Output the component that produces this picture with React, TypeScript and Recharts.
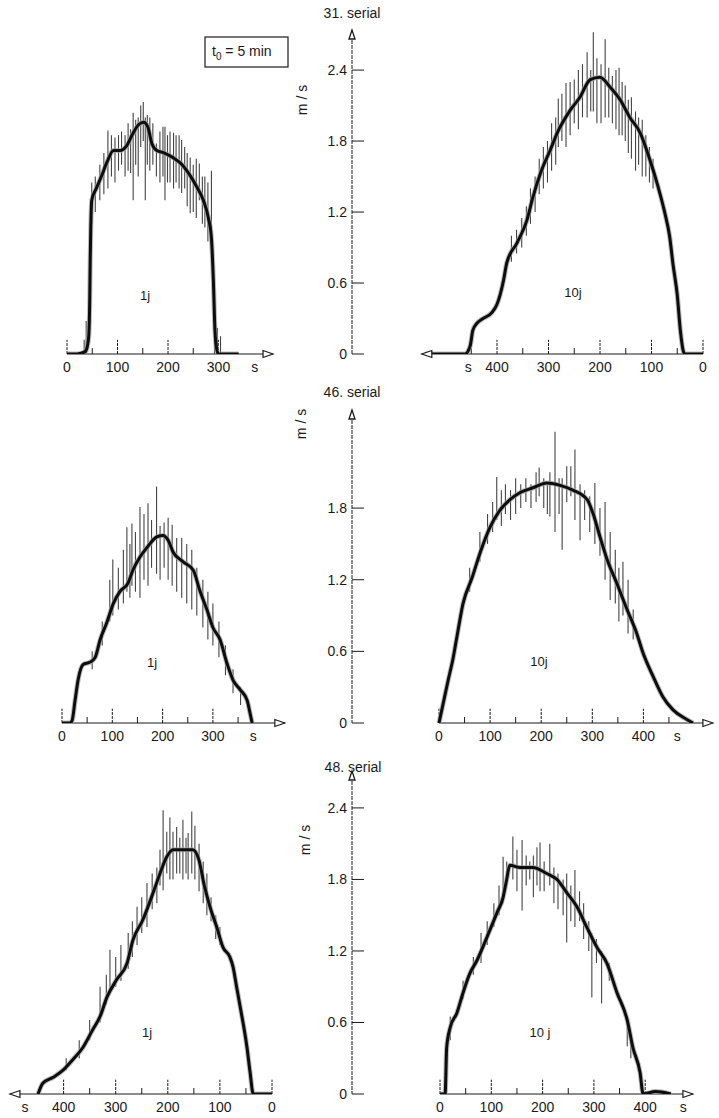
import React from 'react';
import {
  ComposedChart,
  Line,
  Scatter,
  ErrorBar,
  XAxis,
  YAxis,
  ReferenceLine,
  ReferenceDot,
} from 'recharts';

const FONT = '"Liberation Sans", Arial, sans-serif';
const INK = '#1a1a1a';

// ---------- 31. serial, 1j (time in s, speed in m/s) ----------
const r1LT = [0, 20, 36, 40, 43, 45, 46, 47, 49, 58, 68, 80, 92, 105, 118, 130, 142, 152, 160, 168, 178, 192, 210, 228, 242, 256, 270, 280, 286, 290, 293, 297, 300, 320, 340];
const r1LV = [0, 0, 0.02, 0.06, 0.15, 0.45, 0.8, 1.05, 1.3, 1.4, 1.5, 1.63, 1.72, 1.72, 1.76, 1.86, 1.94, 1.96, 1.92, 1.78, 1.72, 1.7, 1.66, 1.6, 1.52, 1.42, 1.3, 1.15, 0.98, 0.6, 0.2, 0.03, 0, 0, 0];
const r1LSpT = [34, 38, 49, 56, 65, 73, 81, 88, 95, 102, 108, 115, 121, 126, 131, 136, 141, 146, 151, 155, 159, 164, 170, 177, 184, 190, 194, 199, 204, 211, 216, 222, 227, 233, 238, 244, 250, 256, 262, 268, 273, 279, 286, 292, 298, 304];
const r1LSpLo = [0, 0, 1.1, 1.2, 1.3, 1.35, 1.4, 1.5, 1.45, 1.55, 1.6, 1.5, 1.55, 1.53, 1.3, 1.6, 1.5, 1.75, 1.8, 1.3, 1.6, 1.55, 1.6, 1.5, 1.45, 1.5, 1.3, 1.45, 1.45, 1.4, 1.45, 1.4, 1.36, 1.4, 1.25, 1.19, 1.2, 1.15, 1.3, 1.1, 1.07, 0.95, 0.85, 0, 0, 0];
const r1LSpHi = [0.12, 0.28, 1.45, 1.5, 1.6, 1.7, 1.89, 1.85, 1.83, 1.85, 1.88, 1.85, 1.95, 1.9, 2.04, 1.98, 2.0, 2.1, 2.13, 2.0, 2.02, 2.0, 1.95, 1.78, 1.88, 1.92, 1.92, 1.85, 1.88, 1.87, 1.85, 1.85, 1.81, 1.75, 1.7, 1.66, 1.6, 1.65, 1.61, 1.5, 1.5, 1.45, 1.55, 0.3, 0.22, 0.15];

// ---------- 31. serial, 10j ----------
const r1RT = [0, 30, 35, 38, 44, 50, 58, 65, 74, 87, 103, 122, 142, 161, 181, 200, 219, 239, 258, 283, 297, 313, 330, 342, 361, 381, 387, 394, 400, 410, 427, 439, 447, 452, 462, 490, 540];
const r1RV = [0, 0, 0, 0.02, 0.2, 0.5, 0.75, 1.0, 1.19, 1.41, 1.64, 1.87, 2.0, 2.15, 2.26, 2.34, 2.32, 2.17, 2.06, 1.87, 1.72, 1.56, 1.33, 1.13, 0.94, 0.77, 0.63, 0.5, 0.42, 0.35, 0.3, 0.26, 0.2, 0.07, 0, 0, 0];
const r1RSpT = [372, 362, 352, 343, 335, 326, 318, 310, 302, 294, 286, 281, 274, 266, 258, 250, 242, 234, 225, 218, 213, 206, 198, 190, 183, 176, 169, 163, 157, 151, 145, 139, 131, 125, 118, 111, 104, 97];
const r1RSpLo = [0.78, 0.85, 0.9, 1.0, 1.1, 1.2, 1.35, 1.4, 1.45, 1.55, 1.6, 1.75, 1.8, 1.75, 1.85, 1.95, 1.9, 2.0, 2.0, 2.05, 2.05, 1.95, 1.95, 2.0, 2.0, 1.95, 1.9, 1.85, 1.85, 1.8, 1.7, 1.65, 1.55, 1.6, 1.5, 1.5, 1.45, 1.4];
const r1RSpHi = [1.0, 1.05, 1.15, 1.25, 1.4, 1.5, 1.65, 1.75, 1.8, 1.95, 2.0, 2.16, 2.2, 2.29, 2.3, 2.32, 2.4, 2.45, 2.55, 2.4, 2.72, 2.5, 2.45, 2.66, 2.42, 2.35, 2.4, 2.42, 2.3, 2.27, 2.15, 2.17, 2.05, 2.0, 1.98, 1.85, 1.75, 1.65];

// ---------- 46. serial, 1j ----------
const r2LT = [0, 15, 20, 26, 32, 42, 56, 66, 76, 89, 102, 115, 131, 141, 155, 169, 189, 201, 211, 221, 241, 261, 274, 288, 300, 314, 328, 340, 354, 368, 374, 378];
const r2LV = [0, 0, 0.02, 0.19, 0.36, 0.49, 0.51, 0.55, 0.7, 0.84, 1.0, 1.1, 1.17, 1.28, 1.39, 1.47, 1.56, 1.57, 1.53, 1.43, 1.35, 1.28, 1.11, 0.95, 0.8, 0.7, 0.5, 0.36, 0.28, 0.19, 0.08, 0];
const r2LSpT = [60, 80, 95, 101, 112, 122, 129, 135, 139, 146, 155, 163, 171, 178, 188, 195, 203, 211, 219, 228, 238, 248, 258, 268, 280, 290, 300, 312, 325, 340, 355];
const r2LSpLo = [0.45, 0.65, 0.85, 0.9, 0.95, 1.0, 1.1, 1.05, 1.15, 1.1, 1.05, 1.2, 1.15, 1.3, 1.25, 1.2, 1.3, 1.2, 1.15, 1.1, 1.05, 1.0, 0.95, 0.9, 0.8, 0.7, 0.65, 0.55, 0.4, 0.25, 0.15];
const r2LSpHi = [0.6, 0.85, 1.2, 1.37, 1.3, 1.45, 1.64, 1.5, 1.67, 1.6, 1.81, 1.75, 1.84, 1.7, 1.98, 1.65, 1.68, 1.72, 1.66, 1.55, 1.55, 1.5, 1.45, 1.3, 1.2, 1.1, 1.0, 0.85, 0.65, 0.45, 0.3];

// ---------- 46. serial, 10j ----------
const r2RT = [0, 8, 18, 27, 35, 47, 65, 80, 100, 119, 139, 159, 184, 211, 237, 262, 290, 301, 315, 329, 348, 368, 387, 399, 419, 438, 458, 485, 497];
const r2RV = [0, 0.16, 0.36, 0.53, 0.72, 1.0, 1.22, 1.42, 1.64, 1.78, 1.87, 1.93, 1.97, 2.01, 1.99, 1.95, 1.87, 1.76, 1.56, 1.37, 1.17, 0.95, 0.75, 0.59, 0.39, 0.22, 0.11, 0.03, 0];
const r2RSpT = [60, 80, 95, 105, 113, 122, 130, 140, 150, 160, 170, 180, 190, 196, 205, 212, 217, 227, 235, 241, 250, 258, 266, 276, 285, 295, 305, 315, 325, 335, 345, 352, 360, 370, 380];
const r2RSpLo = [1.1, 1.35, 1.5, 1.6, 1.7, 1.65, 1.75, 1.7, 1.75, 1.8, 1.85, 1.8, 1.85, 1.9, 1.8, 1.75, 1.73, 1.6, 1.75, 1.45, 1.85, 1.9, 1.7, 1.53, 1.7, 1.6, 1.5, 1.4, 1.2, 1.03, 1.0, 0.85, 0.9, 0.75, 0.7];
const r2RSpHi = [1.3, 1.6, 1.75, 1.85, 2.06, 1.95, 2.0, 1.95, 2.05, 2.0, 2.05, 2.0, 2.1, 2.14, 2.05, 2.0, 2.1, 2.44, 2.05, 2.05, 2.15, 2.15, 2.29, 2.0, 1.95, 1.9, 2.01, 1.8, 1.85, 1.6, 1.45, 1.3, 1.35, 1.2, 0.95];

// ---------- 48. serial, 1j ----------
const r3LT = [0, 20, 30, 36, 42, 48, 61, 68, 75, 81, 94, 106, 119, 130, 140, 152, 171, 190, 202, 215, 228, 248, 267, 278, 298, 317, 330, 344, 363, 382, 401, 420, 440, 449];
const r3LV = [0, 0, 0, 0, 0.18, 0.39, 0.73, 0.9, 1.07, 1.15, 1.23, 1.4, 1.57, 1.75, 1.96, 2.05, 2.05, 2.05, 1.99, 1.85, 1.69, 1.46, 1.29, 1.1, 0.96, 0.81, 0.65, 0.54, 0.39, 0.29, 0.2, 0.14, 0.09, 0];
const r3LSpT = [395, 370, 350, 330, 318, 311, 300, 290, 276, 268, 259, 250, 240, 230, 221, 215, 209, 202, 196, 190, 183, 177, 171, 165, 161, 154, 148, 140, 132, 125, 117, 108, 100];
const r3LSpLo = [0.2, 0.3, 0.45, 0.6, 0.75, 0.85, 0.9, 0.95, 1.05, 1.15, 1.25, 1.35, 1.4, 1.55, 1.6, 1.75, 1.71, 1.85, 1.8, 1.8, 1.85, 1.85, 1.8, 1.85, 1.8, 1.85, 1.8, 1.7, 1.6, 1.5, 1.45, 1.3, 1.25];
const r3LSpHi = [0.3, 0.45, 0.62, 0.9, 1.0, 1.21, 1.15, 1.25, 1.35, 1.45, 1.57, 1.65, 1.77, 1.85, 1.9, 2.05, 2.38, 2.2, 2.32, 2.2, 2.24, 2.15, 2.3, 2.15, 2.19, 2.37, 2.25, 2.1, 1.95, 1.85, 1.65, 1.5, 1.4];

// ---------- 48. serial, 10j ----------
const r3RT = [0, 10, 13, 20, 33, 45, 58, 72, 92, 111, 123, 130, 136, 156, 181, 208, 228, 247, 267, 286, 306, 325, 345, 365, 376, 390, 396, 420, 450];
const r3RV = [0, 0, 0.39, 0.56, 0.68, 0.85, 1.01, 1.12, 1.32, 1.52, 1.65, 1.8, 1.92, 1.9, 1.9, 1.85, 1.8, 1.69, 1.57, 1.4, 1.23, 1.1, 0.85, 0.62, 0.39, 0.18, 0, 0.02, 0];
const r3RSpT = [20, 45, 65, 80, 92, 105, 115, 123, 130, 142, 150, 160, 168, 175, 182, 189, 195, 203, 214, 222, 230, 240, 247, 255, 263, 272, 280, 290, 296, 305, 315, 330, 365, 372];
const r3RSpLo = [0.45, 0.8, 1.0, 1.1, 1.25, 1.4, 1.5, 1.6, 1.75, 1.8, 1.7, 1.54, 1.75, 1.8, 1.65, 1.75, 1.7, 1.7, 1.75, 1.6, 1.55, 1.5, 1.27, 1.45, 1.4, 1.45, 1.3, 1.2, 0.81, 1.1, 0.76, 0.95, 0.4, 0.3];
const r3RSpHi = [0.65, 0.95, 1.15, 1.35, 1.45, 1.6, 1.75, 1.99, 1.95, 2.16, 2.05, 2.13, 2.0, 1.95, 2.0, 2.07, 2.11, 1.95, 2.1, 1.9, 1.85, 1.8, 1.85, 1.75, 1.88, 1.7, 1.6, 1.45, 1.35, 1.3, 1.2, 1.1, 0.65, 0.5];

// ---------- axis ticks ----------
const ticks300 = [0, 100, 200, 300];
const ticks400 = [0, 100, 200, 300, 400];
const minor300 = [50, 150, 250];
const minor350 = [50, 150, 250, 350];
const minor450 = [50, 150, 250, 350, 450];
const yTicksFull = [0, 0.6, 1.2, 1.8, 2.4];
const yTicksMid = [0, 0.6, 1.2, 1.8];

type Geo = { pl: number; pr: number; x0: number; kx: number; zeroY: number; topY: number; ky: number; reversed?: boolean };

type PanelCfg = {
  geo: Geo;
  t: number[];
  v: number[];
  spT: number[];
  spLo: number[];
  spHi: number[];
  ticks: number[];
  minor: number[];
  unitPos: number;
  axisEnd: number;
  yTicks?: number[];
};

const YTick = (props: any) => {
  const { x, y, payload } = props;
  const v = payload.value;
  return (
    <g>
      <text x={x} y={y} dy={5} textAnchor="end" fontSize={14} fontFamily={FONT} fill={INK}>
        {v === 0 ? '0' : v.toFixed(1)}
      </text>
      <line x1={x + 5} x2={x + 17} y1={y} y2={y} stroke={INK} strokeWidth={1} />
    </g>
  );
};

const hidden = () => <g />;

function Panel({ p }: { p: PanelCfg }) {
  const { pl, pr, x0, kx, zeroY, topY, ky, reversed } = p.geo;
  const showY = !!p.yTicks;
  const yw = showY ? 48 : 0;
  const mt = 12;
  const mr = 6;
  const xh = 26;
  const plotW = pr - pl;
  const h = zeroY - topY;
  const yMax = h / ky;
  const dom: [number, number] = reversed
    ? [(x0 - pr) / kx, (x0 - pl) / kx]
    : [(pl - x0) / kx, (pr - x0) / kx];
  const leftEdge = reversed ? dom[1] : dom[0];
  const lineData = p.t.map((t, i) => ({ t, v: p.v[i] }));
  const spikeData = p.spT.map((t, i) => ({
    t,
    v: (p.spLo[i] + p.spHi[i]) / 2,
    e: (p.spHi[i] - p.spLo[i]) / 2,
  }));
  const W = yw + plotW + mr;
  const H = mt + h + xh;
  const dir = reversed ? -1 : 1;

  const xArrow = (props: any) => {
    const { cx, cy } = props;
    const b = cx - dir * 10;
    return <polygon points={`${cx},${cy} ${b},${cy - 3.5} ${b},${cy + 3.5}`} fill="#fff" stroke={INK} strokeWidth={1.2} />;
  };
  const yArrow = (props: any) => {
    const { cx, cy } = props;
    return <polygon points={`${cx},${cy} ${cx - 3},${cy + 9} ${cx + 3},${cy + 9}`} fill="#fff" stroke={INK} strokeWidth={1.3} />;
  };

  return (
    <div style={{ position: 'absolute', left: pl - yw, top: topY - mt, width: W, height: H }}>
      <ComposedChart width={W} height={H} margin={{ top: mt, right: mr, bottom: 0, left: 0 }}>
        <XAxis
          type="number"
          dataKey="t"
          domain={dom}
          allowDataOverflow
          reversed={reversed}
          ticks={[...p.ticks, p.unitPos]}
          interval={0}
          tickFormatter={(v: number) => (v === p.unitPos ? 's' : String(v))}
          axisLine={false}
          tickLine={false}
          tickSize={0}
          tickMargin={8}
          height={xh}
          tick={{ fontSize: 14, fill: INK, fontFamily: FONT }}
        />
        <YAxis
          type="number"
          domain={[0, yMax]}
          allowDataOverflow
          hide={!showY}
          width={yw}
          ticks={p.yTicks}
          interval={0}
          tick={<YTick />}
          tickSize={0}
          tickMargin={5}
          tickLine={false}
          axisLine={{ stroke: INK, strokeWidth: 1, strokeDasharray: '4 1' }}
        />
        <ReferenceLine
          segment={[{ x: 0, y: 0 }, { x: p.axisEnd, y: 0 }]}
          stroke={INK}
          strokeWidth={1}
          ifOverflow="visible"
        />
        {p.ticks.map((t) => (
          <ReferenceLine
            key={`M${t}`}
            segment={[{ x: t, y: 0 }, { x: t, y: 0.12 }]}
            stroke={INK}
            strokeWidth={1}
            strokeDasharray="3 1"
            ifOverflow="visible"
          />
        ))}
        {p.minor.map((t) => (
          <ReferenceLine
            key={`m${t}`}
            segment={[{ x: t, y: 0 }, { x: t, y: 0.05 }]}
            stroke={INK}
            strokeWidth={1}
            ifOverflow="visible"
          />
        ))}
        <Scatter data={spikeData} dataKey="v" shape={hidden} isAnimationActive={false}>
          <ErrorBar dataKey="e" direction="y" width={0} stroke="#444" strokeWidth={1.1} />
        </Scatter>
        <Line data={lineData} dataKey="v" type="monotone" stroke="#a0a0a0" strokeOpacity={0.7} strokeWidth={5} dot={false} isAnimationActive={false} />
        <Line data={lineData} dataKey="v" type="monotone" stroke="#0d0d0d" strokeWidth={3} dot={false} isAnimationActive={false} />
        <ReferenceDot x={p.axisEnd} y={0} r={0} shape={xArrow} ifOverflow="visible" />
        {showY && <ReferenceDot x={leftEdge} y={yMax} r={0} shape={yArrow} ifOverflow="visible" />}
      </ComposedChart>
    </div>
  );
}

const panels: PanelCfg[] = [
  {
    geo: { pl: 15, pr: 345, x0: 67, kx: 0.505, zeroY: 354, topY: 30, ky: 118.3 },
    t: r1LT, v: r1LV, spT: r1LSpT, spLo: r1LSpLo, spHi: r1LSpHi,
    ticks: ticks300, minor: minor300, unitPos: 372, axisEnd: 408,
  },
  {
    geo: { pl: 352, pr: 714, x0: 703, kx: 0.515, zeroY: 354, topY: 30, ky: 118.3, reversed: true },
    t: r1RT, v: r1RV, spT: r1RSpT, spLo: r1RSpLo, spHi: r1RSpHi,
    ticks: ticks400, minor: minor450, unitPos: 456, axisEnd: 546, yTicks: yTicksFull,
  },
  {
    geo: { pl: 15, pr: 345, x0: 62, kx: 0.503, zeroY: 723, topY: 410, ky: 119.4 },
    t: r2LT, v: r2LV, spT: r2LSpT, spLo: r2LSpLo, spHi: r2LSpHi,
    ticks: ticks300, minor: minor350, unitPos: 380, axisEnd: 443,
  },
  {
    geo: { pl: 352, pr: 714, x0: 439, kx: 0.511, zeroY: 723, topY: 410, ky: 119.4 },
    t: r2RT, v: r2RV, spT: r2RSpT, spLo: r2RSpLo, spHi: r2RSpHi,
    ticks: ticks400, minor: minor450, unitPos: 466, axisEnd: 536, yTicks: yTicksMid,
  },
  {
    geo: { pl: 5, pr: 345, x0: 272, kx: 0.521, zeroY: 1094, topY: 771, ky: 119.2, reversed: true },
    t: r3LT, v: r3LV, spT: r3LSpT, spLo: r3LSpLo, spHi: r3LSpHi,
    ticks: ticks400, minor: minor350, unitPos: 474, axisEnd: 503,
  },
  {
    geo: { pl: 352, pr: 714, x0: 440, kx: 0.513, zeroY: 1094, topY: 771, ky: 119.2 },
    t: r3RT, v: r3RV, spT: r3RSpT, spLo: r3RSpLo, spHi: r3RSpHi,
    ticks: ticks400, minor: minor350, unitPos: 474, axisEnd: 493, yTicks: yTicksFull,
  },
];

const txt = { fontFamily: FONT, fill: INK } as const;

export default function App() {
  return (
    <div style={{ position: 'relative', width: 719, height: 1118, background: '#fff', overflow: 'hidden' }}>
      <style>{'body{margin:0}'}</style>
      {panels.map((p, i) => (
        <Panel key={i} p={p} />
      ))}
      <svg width={719} height={1118} style={{ position: 'absolute', left: 0, top: 0, pointerEvents: 'none' }}>
        <text x={352} y={18} textAnchor="middle" fontSize={14} {...txt}>31. serial</text>
        <text x={352} y={397} textAnchor="middle" fontSize={14} {...txt}>46. serial</text>
        <text x={353} y={772} textAnchor="middle" fontSize={14} {...txt}>48. serial</text>
        {[
          [302, 100],
          [301, 424],
          [305, 840],
        ].map(([x, y], i) => (
          <text key={i} x={x} y={y} textAnchor="middle" fontSize={14} transform={`rotate(-90 ${x} ${y})`} dy={5} {...txt}>
            m / s
          </text>
        ))}
        <rect x={205} y={37} width={83} height={30} fill="#fff" stroke={INK} strokeWidth={1.2} />
        <text x={212} y={56} fontSize={14} {...txt}>
          t<tspan dy={4} fontSize={10}>0</tspan>
          <tspan dy={-4}> = 5 min</tspan>
        </text>
        <text x={145} y={300} textAnchor="middle" fontSize={13} {...txt}>1j</text>
        <text x={573} y={297} textAnchor="middle" fontSize={13} {...txt}>10j</text>
        <text x={152} y={667} textAnchor="middle" fontSize={13} {...txt}>1j</text>
        <text x={539} y={666} textAnchor="middle" fontSize={13} {...txt}>10j</text>
        <text x={147} y={1037} textAnchor="middle" fontSize={13} {...txt}>1j</text>
        <text x={540} y={1037} textAnchor="middle" fontSize={13} {...txt}>10 j</text>
      </svg>
    </div>
  );
}
